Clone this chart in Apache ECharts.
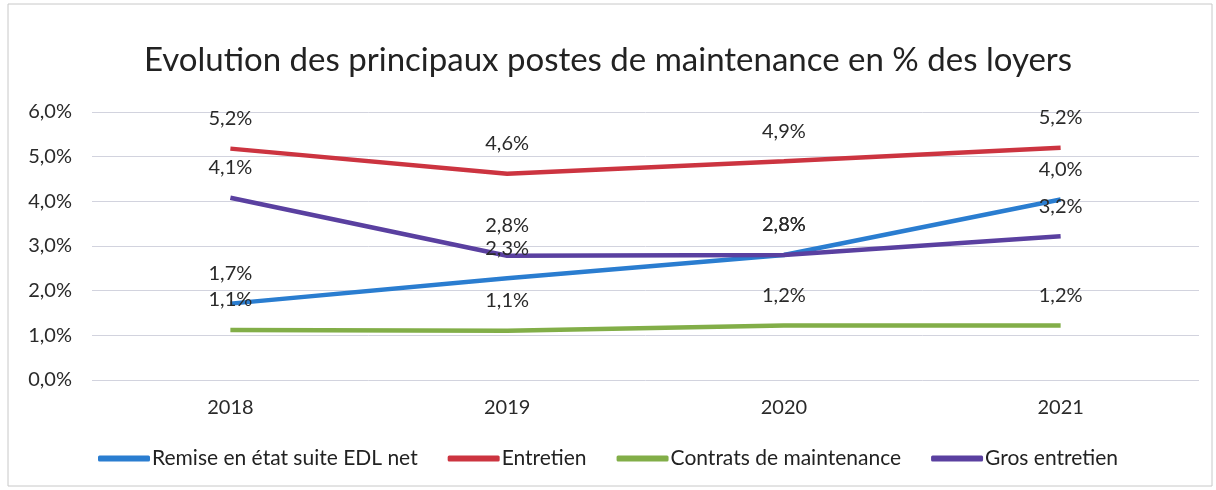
<!DOCTYPE html>
<html>
<head>
<meta charset="utf-8">
<script src="https://cdn.jsdelivr.net/npm/echarts@6/dist/echarts.min.js"></script>
<style>
  html, body { margin: 0; padding: 0; background: #fff; }
  #chart { width: 1216px; height: 490px; }
</style>
</head>
<body>
<div id="chart"></div>
<script>
// données
const years = ['2018', '2019', '2020', '2021']
const remiseEtat = [1.71, 2.28, 2.8, 4.04]
const entretien = [5.18, 4.62, 4.9, 5.2]
const contrats = [1.12, 1.1, 1.22, 1.22]
const grosEntretien = [4.08, 2.78, 2.8, 3.22]
const seriesNames = ['Remise en état suite EDL net', 'Entretien', 'Contrats de maintenance', 'Gros entretien']
const seriesColors = ['#2a7dd0', '#cc3440', '#82ae48', '#5a40a0']

const font = 'Lato'

function makeSeries(name, data, color) {
    return {
        name: name,
        type: 'line',
        data: data,
        symbol: 'circle',
        symbolSize: 0,
        showSymbol: true,
        lineStyle: { width: 4.5, color: color },
        itemStyle: { color: color },
        label: {
            show: true,
            position: 'top',
            distance: 20,
            fontFamily: font,
            fontSize: 20,
            color: '#2a2a2a',
            formatter: p => p.value.toFixed(1).replace('.', ',') + '%'
        },
        labelLayout: { hideOverlap: false }
    }
}

const chart = echarts.init(document.getElementById('chart'))
chart.setOption({
    animation: false,
    title: {
        text: 'Evolution des principaux postes de maintenance en % des loyers',
        left: 'center',
        top: 39,
        textStyle: { fontFamily: font, fontSize: 33, fontWeight: 'normal', color: '#222' }
    },
    legend: {
        bottom: 16,
        left: 'center',
        itemWidth: 52,
        itemHeight: 6,
        itemGap: 30,
        icon: 'roundRect',
        textStyle: { fontFamily: font, fontSize: 21, color: '#222', padding: [0, 0, 0, -3] },
        data: seriesNames
    },
    grid: { left: 92, right: 17, top: 112, height: 268, containLabel: false },
    xAxis: {
        type: 'category',
        data: years,
        boundaryGap: true,
        axisLine: { show: false },
        axisTick: { show: false },
        axisLabel: { fontFamily: font, fontSize: 20, color: '#2a2a2a', margin: 18 }
    },
    yAxis: {
        type: 'value',
        min: 0,
        max: 6,
        interval: 1,
        axisLine: { show: false },
        axisTick: { show: false },
        axisLabel: {
            fontFamily: font, fontSize: 20, color: '#2a2a2a', margin: 20,
            formatter: v => v.toFixed(1).replace('.', ',') + '%'
        },
        splitLine: { lineStyle: { color: '#d2d3de', width: 1 } }
    },
    graphic: [{
        type: 'rect',
        shape: { x: 8, y: 4, width: 1204, height: 482 },
        style: { fill: 'none', stroke: '#c8c8c8', lineWidth: 1 },
        silent: true
    }],
    series: [
        makeSeries(seriesNames[0], remiseEtat, seriesColors[0]),
        makeSeries(seriesNames[1], entretien, seriesColors[1]),
        makeSeries(seriesNames[2], contrats, seriesColors[2]),
        makeSeries(seriesNames[3], grosEntretien, seriesColors[3])
    ]
})
</script>
</body>
</html>
